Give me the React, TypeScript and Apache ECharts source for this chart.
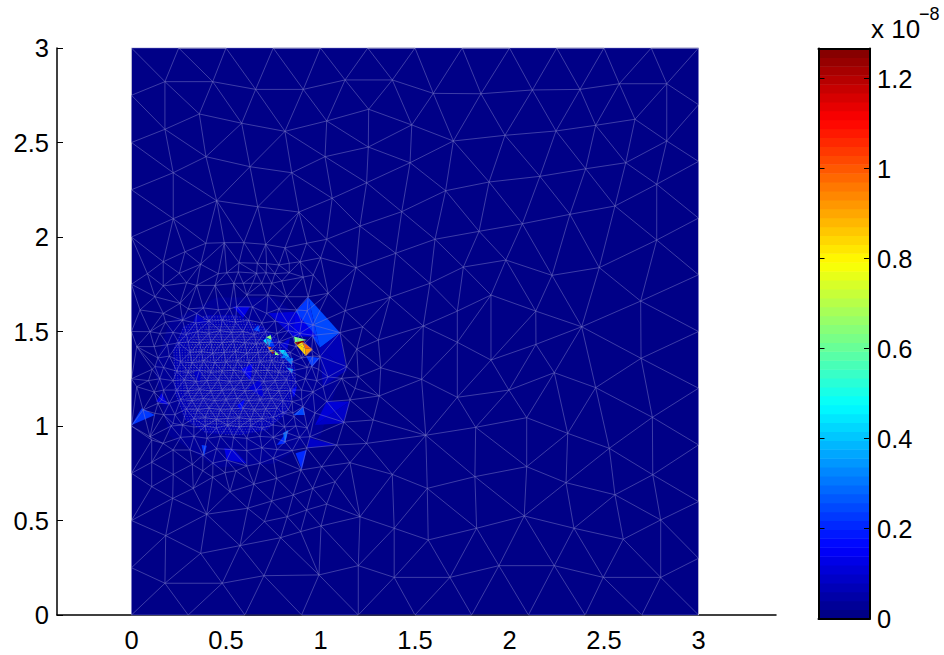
import React, { useEffect, useRef } from "react";
import * as echarts from "echarts";

const xTicks = [0, 0.5, 1, 1.5, 2, 2.5, 3];
const yTicks = [0, 0.5, 1, 1.5, 2, 2.5, 3];
const barTicks = [0, 0.2, 0.4, 0.6, 0.8, 1, 1.2];
const barMax = 1.267;
const bandCount = 64;

const topEdgeX = [0, 0.25, 0.5, 0.75, 1, 1.25, 1.5, 1.75, 2, 2.25, 2.5, 2.75, 3];
const bottomEdgeX = [0, 0.3, 0.6, 0.9, 1.2, 1.5, 1.8, 2.1, 2.4, 2.7, 3];
const leftEdgeY = [0.25, 0.5, 0.75, 1, 1.25, 1.5, 1.75, 2, 2.25, 2.5, 2.75];
const rightEdgeY = [0.3, 0.6, 0.9, 1.2, 1.5, 1.8, 2.1, 2.4, 2.7];

const coarseNodesRight = [
  [1.597,2.76],[1.849,2.758],[2.121,2.778],[2.373,2.781],[2.581,2.811],[2.832,2.811],[1.703,2.508],[1.976,2.538],[2.246,2.561],[2.456,2.591],[2.664,2.623],[2.832,2.508],
  [1.662,2.245],[1.892,2.291],[2.161,2.321],[2.403,2.361],[2.615,2.393],[2.779,2.279],[1.606,1.988],[1.839,2.03],[2.068,2.07],[2.32,2.12],[2.558,2.164],[2.779,1.984],
  [1.756,1.841],[1.981,1.878],[2.225,1.797],[2.475,1.838],[1.579,1.755],[1.902,1.693],[2.139,1.608],[1.724,1.608],[2.382,1.525],[2.694,1.661],[1.544,1.529],
  [2.696,1.358],[1.724,1.443],[2.14,1.432],[1.902,1.349],[1.535,1.247],[1.724,1.152],[1.997,1.19],[2.237,1.282],[2.456,1.203],[2.756,1.046],[2.091,1.044],[2.308,0.961],[2.528,0.882],
  [1.557,0.951],[1.821,0.993],[2.091,0.785],[1.817,0.732],[2.299,0.7],[2.558,0.636],[2.758,0.742],[1.565,0.67],[2.078,0.524],[1.826,0.459],[2.341,0.459],[2.8,0.503],[2.602,0.401],[1.57,0.397],
  [1.944,0.261],[2.237,0.261],[1.685,0.199],[2.496,0.199],[2.8,0.199],
];

const coarseNodesLower = [
  [0.107,0.808],[0.107,0.679],[0.218,0.617],[0.327,0.67],[0.221,0.744],[0.322,0.797],[0.377,0.763],[0.43,0.729],[0.521,0.652],[0.398,0.533],[0.181,0.42],[0.366,0.326],[0.177,0.168],[0.48,0.168],
  [0.574,0.367],[0.701,0.208],[0.992,0.212],[0.789,0.409],[0.703,0.494],[0.615,0.565],[0.742,0.603],[0.648,0.692],[0.768,0.723],[0.553,0.763],[0.495,0.753],[0.824,0.52],[0.927,0.556],[0.856,0.635],
  [0.959,0.67],[0.897,0.767],[1.006,0.785],[1.077,0.705],[1.033,0.587],[0.895,0.441],[1.003,0.471],[1.209,0.52],[1.2,0.261],[1.39,0.459],[1.39,0.199],[1.38,0.744],[1.156,0.806],[1.244,0.908],
  [1.086,0.899],[0.944,0.943],[0.812,0.917],[0.22,0.873],[0.167,0.908],[0.75,0.829],[0.68,0.803],[0.61,0.788],[0.431,0.804],[0.378,0.847],[0.504,0.82],[0.107,0.926],
];

const coarseNodesUpper = [
  [0.177,2.822],[0.43,2.822],[0.657,2.781],[0.909,2.781],[1.13,2.831],[1.38,2.831],[0.359,2.651],[0.583,2.602],[0.812,2.559],[1.033,2.614],[1.255,2.676],[1.483,2.593],[0.177,2.57],
  [0.394,2.425],[0.627,2.372],[0.848,2.34],[1.024,2.425],[1.253,2.476],[1.474,2.393],[0.221,2.34],[0.451,2.192],[0.668,2.16],[0.886,2.132],[1.062,2.205],[1.244,2.287],[1.43,2.134],[0.221,2.097],
  [1.209,2.058],[1.033,1.988],[1.398,1.914],[0.394,1.967],[0.491,1.97],[0.595,1.97],[0.71,1.961],[0.812,1.943],[0.927,1.967],[0.283,1.922],[0.168,1.869],[0.084,1.806],[0.366,1.856],[0.253,1.808],[0.168,1.741],
  [1.001,1.89],[1.188,1.838],[0.962,1.799],[0.892,1.869],[0.835,1.861],[0.78,1.852],[0.715,1.859],[0.666,1.861],[0.569,1.864],[0.459,1.806],[0.504,1.811],[0.565,1.815],[0.662,1.808],[0.712,1.811],[0.759,1.806],
  [0.835,1.811],[0.909,1.788],[0.795,1.767],[0.442,1.744],[0.345,1.744],[0.542,1.755],[0.592,1.755],[0.641,1.755],[0.689,1.755],[0.742,1.755],[1.041,1.702],[0.292,1.758],
];

const coarseNodesMiddle = [
  [1.368,1.681],[1.13,1.61],[1.223,1.525],[1.306,1.455],[1.192,1.407],[1.319,1.308],[1.2,1.261],[1.311,1.159],[1.124,1.02],[1.279,1.032],[1.103,1.494],[1.139,1.314],[1.112,1.252],[1.183,1.199],[1.156,1.138],
  [0.935,1.684],[0.61,1.693],[0.722,1.693],[0.821,1.684],[0.874,1.614],[0.715,1.596],[0.557,1.631],[0.345,1.596],[0.257,1.649],[0.168,1.596],[0.124,1.684],[0.045,1.614],[0.098,1.499],[0.028,1.42],[0.124,1.314],
  [0.028,1.208],[0.16,1.138],[0.124,1.067],[0.061,1.085],[0.22,1.014],[0.098,0.943],[0.31,0.873],[0.927,0.884],[1.033,1.129],[0.971,1.069],[0.907,1.102],[0.854,1.069],[1.013,1.208],[0.953,1.314],[0.997,1.367],[0.953,1.402],[0.854,1.473],[0.96,1.534],
];

const ringNodes = [
  [0.3,1.62],[0.38,1.625],[0.46,1.615],[0.52,1.62],[0.64,1.63],[0.78,1.62],[0.93,1.61],
  [0.18,1.55],[0.27,1.56],[0.34,1.545],[0.41,1.555],[0.48,1.56],[0.55,1.55],[0.62,1.56],[0.69,1.545],[0.76,1.555],[0.83,1.54],[0.9,1.55],
  [0.15,1.49],[0.22,1.495],[0.29,1.485],[0.35,1.5],[0.41,1.49],[0.47,1.505],[0.53,1.495],[0.59,1.5],[0.65,1.485],[0.71,1.5],[0.77,1.49],[0.83,1.505],[0.89,1.49],[0.96,1.48],
  [0.12,1.42],[0.19,1.43],[0.25,1.44],[0.3,1.445],[0.87,1.42],[0.92,1.44],[0.14,1.36],[0.2,1.37],[0.9,1.36],[0.96,1.37],[0.11,1.3],[0.17,1.31],[0.93,1.31],[0.99,1.3],
  [0.09,1.24],[0.15,1.25],[0.92,1.25],[0.98,1.24],[1.04,1.26],[0.12,1.18],[0.17,1.19],[0.9,1.19],[0.96,1.18],[0.14,1.12],[0.2,1.12],[0.85,1.13],[0.9,1.14],[0.17,1.06],[0.23,1.06],[0.8,1.07],[0.86,1.05],
  [0.21,1.0],[0.27,1.005],[0.33,0.995],[0.39,1.0],[0.45,0.99],[0.51,1.005],[0.57,0.995],[0.63,1.0],[0.69,0.99],[0.75,1.005],[0.81,0.995],[0.87,1.0],[0.93,0.99],
  [0.26,0.94],[0.33,0.945],[0.4,0.935],[0.47,0.945],[0.54,0.94],[0.61,0.935],[0.68,0.945],[0.75,0.94],[0.82,0.965],[0.89,0.94],
  [0.45,0.88],[0.53,0.875],[0.61,0.87],[0.69,0.885],[0.77,0.875],[0.85,0.87],
];

const coreNodes = [
  [0.36,1.44],[0.42,1.445],[0.48,1.44],[0.54,1.45],[0.6,1.44],[0.66,1.435],[0.72,1.44],[0.78,1.445],
  [0.31,1.39],[0.37,1.395],[0.43,1.385],[0.49,1.39],[0.55,1.395],[0.61,1.385],[0.67,1.39],[0.73,1.395],[0.79,1.385],[0.84,1.39],
  [0.26,1.34],[0.32,1.335],[0.38,1.345],[0.44,1.335],[0.5,1.34],[0.56,1.345],[0.62,1.335],[0.68,1.34],[0.74,1.345],[0.8,1.335],[0.85,1.34],
  [0.24,1.29],[0.3,1.285],[0.36,1.295],[0.42,1.285],[0.48,1.29],[0.54,1.295],[0.6,1.285],[0.66,1.29],[0.72,1.295],[0.78,1.285],[0.84,1.29],
  [0.22,1.24],[0.28,1.245],[0.34,1.235],[0.4,1.24],[0.46,1.245],[0.52,1.235],[0.58,1.24],[0.64,1.245],[0.7,1.235],[0.76,1.24],[0.82,1.245],[0.87,1.235],
  [0.24,1.19],[0.3,1.185],[0.36,1.195],[0.42,1.185],[0.48,1.19],[0.54,1.195],[0.6,1.185],[0.66,1.19],[0.72,1.195],[0.78,1.185],[0.84,1.19],
  [0.26,1.14],[0.32,1.135],[0.38,1.145],[0.44,1.135],[0.5,1.14],[0.56,1.145],[0.62,1.135],[0.68,1.14],[0.74,1.145],[0.8,1.135],
  [0.29,1.09],[0.35,1.085],[0.41,1.095],[0.47,1.085],[0.53,1.09],[0.59,1.095],[0.65,1.085],[0.71,1.09],[0.77,1.095],[0.83,1.085],
  [0.33,1.04],[0.39,1.045],[0.45,1.035],[0.51,1.04],[0.57,1.045],[0.63,1.035],[0.69,1.04],[0.75,1.045],
];

const coreOutline = [
  [0.221,1.402],[0.274,1.525],[0.398,1.587],[0.557,1.587],[0.697,1.525],[0.821,1.42],[0.865,1.314],[0.874,1.208],[0.821,1.067],[0.715,0.979],[0.574,0.952],[0.398,0.961],[0.283,1.032],[0.23,1.175],
];
const innerOutline = [
  [0.28,1.3],[0.33,1.47],[0.42,1.53],[0.55,1.53],[0.68,1.47],[0.78,1.38],[0.82,1.28],[0.82,1.18],[0.77,1.09],[0.68,1.02],[0.57,0.995],[0.41,1.005],[0.32,1.07],[0.28,1.18],
];
const haloOutline = [
  [0.12,1.3],[0.2,1.55],[0.45,1.68],[0.75,1.68],[0.97,1.52],[1.1,1.25],[1.0,0.95],[0.75,0.8],[0.45,0.78],[0.2,0.95],
];
const coreLevel = 0.06;
const haloLevel = 0.03;

// [x1, y1, x2, y2, x3, y3, value in units of 1e-8]
const hotTriangles = [
  [0.935,1.681,1.103,1.494,0.997,1.414,0.24],[0.935,1.681,0.997,1.414,0.868,1.605,0.22],
  [0.724,1.596,0.868,1.605,0.854,1.473,0.1],[0.868,1.605,0.98,1.473,0.854,1.473,0.12],[1.103,1.494,1.139,1.295,0.997,1.414,0.06],[0.997,1.414,1.139,1.295,1.013,1.208,0.06],
  [0.86,1.443,0.918,1.411,0.923,1.37,0.85],[0.86,1.443,0.901,1.45,0.918,1.411,0.82],[0.901,1.45,0.959,1.406,0.918,1.411,0.98],[0.918,1.411,0.959,1.406,0.923,1.37,0.93],
  [0.865,1.443,0.927,1.455,0.874,1.429,1.25],[0.86,1.473,0.927,1.455,0.865,1.443,0.63],[0.923,1.37,0.997,1.36,0.955,1.312,0.22],
  [0.712,1.469,0.737,1.482,0.742,1.455,0.65],[0.697,1.451,0.719,1.429,0.712,1.464,0.42],[0.742,1.455,0.759,1.42,0.729,1.42,0.22],[0.712,1.464,0.742,1.455,0.729,1.42,0.36],
  [0.719,1.42,0.742,1.416,0.729,1.402,1.0],[0.704,1.438,0.719,1.42,0.733,1.399,0.6],[0.737,1.393,0.759,1.393,0.747,1.381,1.22],[0.729,1.402,0.759,1.398,0.737,1.393,0.85],[0.759,1.398,0.782,1.376,0.759,1.376,0.65],
  [0.777,1.402,0.812,1.402,0.803,1.376,0.42],[0.812,1.402,0.839,1.358,0.803,1.376,0.38],[0.803,1.376,0.839,1.358,0.791,1.36,0.3],[0.812,1.358,0.856,1.358,0.848,1.323,0.3],[0.818,1.311,0.856,1.3,0.848,1.279,0.33],[0.786,1.429,0.839,1.466,0.823,1.402,0.1],
  [0.001,1.005,0.054,1.094,0.124,1.058,0.22],[0.13,1.129,0.16,1.173,0.195,1.111,0.12],[0.371,0.899,0.398,0.896,0.384,0.838,0.22],[0.491,0.882,0.539,0.877,0.504,0.82,0.13],[0.539,0.877,0.61,0.803,0.504,0.82,0.11],
  [0.768,0.899,0.83,0.979,0.812,0.908,0.2],[0.802,0.963,0.83,0.979,0.812,0.908,0.28],[0.868,0.856,0.927,0.873,0.901,0.767,0.2],[0.944,0.935,1.086,0.899,0.927,0.884,0.08],[0.856,1.058,0.909,1.102,0.918,1.058,0.25],
  [0.971,1.005,1.033,1.129,1.156,1.129,0.1],[0.971,1.005,1.156,1.129,1.121,1.014,0.09],[0.537,1.631,0.627,1.631,0.59,1.571,0.12],[0.644,1.508,0.671,1.534,0.68,1.499,0.25],[0.345,1.596,0.398,1.543,0.327,1.552,0.08],
  [0.58,1.3,0.64,1.33,0.63,1.24,0.14],[0.62,1.2,0.68,1.25,0.7,1.15,0.1],[0.33,1.28,0.37,1.31,0.36,1.22,0.09],[0.56,1.11,0.6,1.14,0.58,1.08,0.16],[0.848,1.19,0.875,1.21,0.86,1.15,0.16],
];

// [x1, y1, x2, y2] stretches of the border that show light or dark
const lightBorder = [
  [0.25,3,0.5,3],[0.75,3,1,3],[1.25,3,1.5,3],[1.75,3,2,3],[2.25,3,2.5,3],[2.75,3,3,3],
  [0,2.75,0,3],[0,2.25,0,2.5],[0,1.75,0,2],[0,1.25,0,1.5],[0,0.5,0,0.75],
  [3,2.4,3,2.7],[3,1.8,3,2.1],[3,1.2,3,1.5],[3,0.6,3,0.9],[3,0,3,0.3],
];
const darkBorder = [[0.6,0,0.9,0],[1.2,0,1.5,0],[1.8,0,2.1,0],[2.4,0,2.7,0]];

const FONT = "Liberation Sans";
const FONT_SIZE = 25.5;
const clamp = (v: number) => Math.max(0, Math.min(1, v));
const jet = (t: number) => {
  const c = (o: number) => Math.round(255 * clamp(1.5 - Math.abs(4 * t - o)));
  return `rgb(${c(3)},${c(2)},${c(1)})`;
};
const levelColor = (v: number) => jet((Math.floor((Math.min(v, barMax) / barMax) * bandCount * 0.9999) + 0.5) / bandCount);

type P = number[];
function delaunayEdges(pts: P[]): number[][] {
  const n = pts.length;
  const all: P[] = pts.concat([[-500, -500], [500, -500], [0, 800]]);
  let tris: number[][] = [[n, n + 1, n + 2]];
  const inCircle = (t: number[], p: P) => {
    const [a, b, c] = t.map((i) => all[i]);
    const ax = a[0] - p[0], ay = a[1] - p[1];
    const bx = b[0] - p[0], by = b[1] - p[1];
    const cx = c[0] - p[0], cy = c[1] - p[1];
    const det =
      (ax * ax + ay * ay) * (bx * cy - cx * by) -
      (bx * bx + by * by) * (ax * cy - cx * ay) +
      (cx * cx + cy * cy) * (ax * by - bx * ay);
    const orient = (b[0] - a[0]) * (c[1] - a[1]) - (b[1] - a[1]) * (c[0] - a[0]);
    return orient > 0 ? det > 0 : det < 0;
  };
  for (let i = 0; i < n; i++) {
    const keep: number[][] = [];
    const open = new Map<string, number[]>();
    for (const t of tris) {
      if (inCircle(t, all[i])) {
        for (const [a, b] of [[t[0], t[1]], [t[1], t[2]], [t[2], t[0]]]) {
          const k = a < b ? `${a}_${b}` : `${b}_${a}`;
          if (open.has(k)) open.delete(k);
          else open.set(k, [a, b]);
        }
      } else keep.push(t);
    }
    open.forEach(([a, b]) => keep.push([a, b, i]));
    tris = keep;
  }
  const seen = new Set<string>();
  const out: number[][] = [];
  for (const t of tris) {
    for (const [a, b] of [[t[0], t[1]], [t[1], t[2]], [t[2], t[0]]]) {
      if (a >= n || b >= n) continue;
      const k = a < b ? `${a}_${b}` : `${b}_${a}`;
      if (seen.has(k)) continue;
      seen.add(k);
      out.push([pts[a][0], pts[a][1], pts[b][0], pts[b][1]]);
    }
  }
  return out;
}

const meshNodes: P[] = [
  ...topEdgeX.map((x) => [x, 3]),
  ...bottomEdgeX.map((x) => [x, 0]),
  ...leftEdgeY.map((y) => [0, y]),
  ...rightEdgeY.map((y) => [3, y]),
  ...coarseNodesRight,
  ...coarseNodesLower,
  ...coarseNodesUpper,
  ...coarseNodesMiddle,
  ...ringNodes,
  ...coreNodes,
];

function outlineRows(poly: P[], spacing: number): number[][] {
  const ys = poly.map((p) => p[1]);
  const rows: number[][] = [];
  for (let y = Math.min(...ys) + 0.004; y < Math.max(...ys); y += spacing) {
    const xs: number[] = [];
    poly.forEach((a, i) => {
      const b = poly[(i + 1) % poly.length];
      if ((a[1] <= y) !== (b[1] <= y)) xs.push(a[0] + ((y - a[1]) / (b[1] - a[1])) * (b[0] - a[0]));
    });
    if (xs.length >= 2) rows.push([y, Math.min(...xs), Math.max(...xs)]);
  }
  return rows;
}

export default function App() {
  const ref = useRef<HTMLDivElement>(null);
  useEffect(() => {
    const chart = echarts.init(ref.current!, null, { renderer: "svg" });
    const edges = delaunayEdges(meshNodes);

    const polygonSeries = (poly: P[], level: number, z: number) => ({
      type: "custom", xAxisIndex: 0, yAxisIndex: 0, silent: true, z,
      data: [poly.flat()],
      renderItem: (_: any, api: any) => ({
        type: "polygon",
        shape: { points: poly.map((_p, i) => api.coord([api.value(2 * i), api.value(2 * i + 1)])) },
        style: { fill: levelColor(level) },
      }),
    });
    const segmentSeries = (data: number[][], stroke: string, lineWidth: number, z: number) => ({
      type: "custom", xAxisIndex: 0, yAxisIndex: 0, silent: true, z,
      data,
      renderItem: (_: any, api: any) => {
        const a = api.coord([api.value(0), api.value(1)]);
        const b = api.coord([api.value(2), api.value(3)]);
        return { type: "line", shape: { x1: a[0], y1: a[1], x2: b[0], y2: b[1] }, style: { stroke, lineWidth, fill: "none" } };
      },
    });
    const dotRowSeries = (rows: number[][], stroke: string, z: number) => ({
      type: "custom", xAxisIndex: 0, yAxisIndex: 0, silent: true, z,
      data: rows,
      renderItem: (_: any, api: any) => {
        const a = api.coord([api.value(1), api.value(0)]);
        const b = api.coord([api.value(2), api.value(0)]);
        return {
          type: "line",
          shape: { x1: a[0], y1: a[1], x2: b[0], y2: b[1] },
          style: { stroke, lineWidth: 1, lineDash: [1.2, 1.6], fill: "none" },
        };
      },
    });

    chart.setOption({
      animation: false,
      backgroundColor: "#fff",
      grid: [
        { left: 57, top: 48, width: 719, height: 567 },
        { left: 818.5, top: 48.5, width: 51.5, height: 570 },
      ],
      xAxis: [
        {
          gridIndex: 0, type: "value", min: -0.394, max: 3.41, position: "bottom", splitLine: { show: false },
          axisLine: { onZero: false, lineStyle: { color: "#000", width: 1.5 } },
          axisTick: { show: false },
          axisLabel: { customValues: xTicks, formatter: (v: number) => String(v), color: "#000", fontFamily: FONT, fontSize: FONT_SIZE, margin: 12 },
        },
        {
          gridIndex: 1, type: "value", min: 0, max: 1, position: "bottom", z: 10, splitLine: { show: false },
          axisLine: { onZero: false, lineStyle: { color: "#000", width: 2 } }, axisTick: { show: false }, axisLabel: { show: false },
        },
        {
          gridIndex: 1, type: "value", min: 0, max: 1, position: "top", z: 10, splitLine: { show: false },
          axisLine: { onZero: false, lineStyle: { color: "#000", width: 2 } }, axisTick: { show: false }, axisLabel: { show: false },
        },
      ],
      yAxis: [
        {
          gridIndex: 0, type: "value", min: 0, max: 3, position: "left", splitLine: { show: false },
          axisLine: { onZero: false, lineStyle: { color: "#000", width: 1.5 } },
          axisTick: { inside: true, length: 6, customValues: yTicks, lineStyle: { color: "#000", width: 1 } },
          axisLabel: { customValues: yTicks, formatter: (v: number) => String(v), color: "#000", fontFamily: FONT, fontSize: FONT_SIZE, margin: 8 },
        },
        {
          gridIndex: 1, type: "value", min: 0, max: barMax, position: "right", z: 10, splitLine: { show: false },
          axisLine: { onZero: false, lineStyle: { color: "#000", width: 2 } },
          axisTick: { inside: true, length: 6, customValues: barTicks, lineStyle: { color: "#000", width: 1 } },
          axisLabel: { customValues: barTicks, formatter: (v: number) => String(v), color: "#000", fontFamily: FONT, fontSize: FONT_SIZE, margin: 7 },
        },
        {
          gridIndex: 1, type: "value", min: 0, max: barMax, position: "left", z: 10, splitLine: { show: false },
          axisLine: { onZero: false, lineStyle: { color: "#000", width: 2 } },
          axisTick: { inside: true, length: 6, customValues: barTicks, lineStyle: { color: "#000", width: 1 } },
          axisLabel: { show: false },
        },
      ],
      graphic: [
        { type: "text", z: 20, x: 871, y: 16, style: { text: "x 10", fill: "#000", font: `26px "${FONT}"` } },
        { type: "text", z: 20, x: 919, y: 5, style: { text: "\u22128", fill: "#000", font: `18px "${FONT}"` } },
      ],
      series: [
        polygonSeries([[0, 0], [3, 0], [3, 3], [0, 3]], 0, 2),
        polygonSeries(haloOutline, haloLevel, 3),
        polygonSeries(coreOutline, coreLevel, 4),
        dotRowSeries(outlineRows(coreOutline, 0.0135), "rgba(120,120,175,0.55)", 5),
        dotRowSeries(outlineRows(innerOutline, 0.0135), "rgba(125,125,170,0.55)", 5),
        {
          type: "custom", xAxisIndex: 0, yAxisIndex: 0, silent: true, z: 6,
          data: hotTriangles,
          renderItem: (_: any, api: any) => ({
            type: "polygon",
            shape: { points: [0, 2, 4].map((i) => api.coord([api.value(i), api.value(i + 1)])) },
            style: { fill: levelColor(api.value(6)) },
          }),
        },
        segmentSeries(edges, "rgba(125,125,200,0.62)", 0.8, 7),
        segmentSeries(lightBorder, "#b4b4d2", 1, 8),
        segmentSeries(darkBorder, "#12123a", 1, 8),
        {
          type: "custom", xAxisIndex: 1, yAxisIndex: 1, silent: true, z: 2,
          data: Array.from({ length: bandCount }, (_, i) => [i]),
          renderItem: (_: any, api: any) => {
            const i = api.value(0);
            const a = api.coord([0, (i * barMax) / bandCount]);
            const b = api.coord([1, ((i + 1) * barMax) / bandCount]);
            return {
              type: "rect",
              shape: { x: a[0], y: b[1], width: b[0] - a[0], height: a[1] - b[1] + 0.5 },
              style: { fill: jet((i + 0.5) / bandCount) },
            };
          },
        },
      ],
    });
    return () => chart.dispose();
  }, []);
  return <div ref={ref} style={{ position: "fixed", left: 0, top: 0, width: 944, height: 655 }} />;
}
